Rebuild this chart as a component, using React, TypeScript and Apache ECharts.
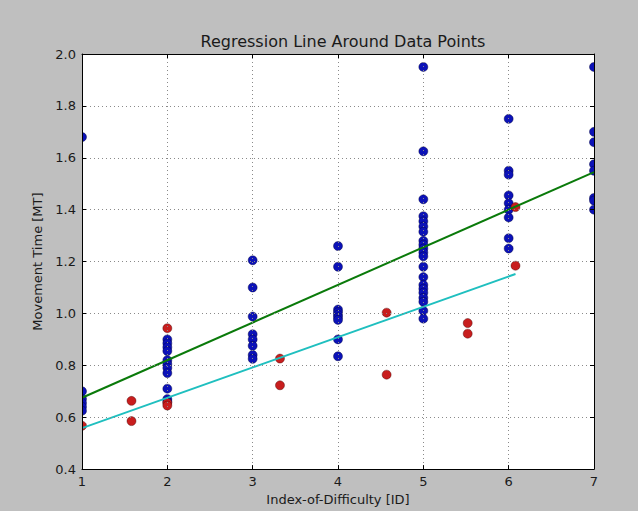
import React, { useEffect, useRef } from "react";
import * as echarts from "echarts";

const titleText = "Regression Line Around Data Points";
const xName = "Index-of-Difficulty [ID]";
const yName = "Movement Time [MT]";

const blueX1 = [1.68, 0.70, 0.67, 0.655, 0.64, 0.625];
const blueX2 = [0.90, 0.885, 0.87, 0.855, 0.82, 0.805, 0.79, 0.77, 0.71, 0.67, 0.66];
const blueX3 = [1.205, 1.10, 0.988, 0.92, 0.90, 0.875, 0.84, 0.825];
const blueX4 = [1.26, 1.18, 1.015, 1.005, 0.995, 0.985, 0.975, 0.90, 0.835];
const blueX5 = [1.95, 1.625, 1.44, 1.375, 1.355, 1.335, 1.315, 1.28, 1.265, 1.25, 1.235, 1.22, 1.18, 1.14, 1.11, 1.095, 1.08, 1.06, 1.045, 1.01, 0.98];
const blueX6 = [1.75, 1.55, 1.535, 1.455, 1.425, 1.40, 1.37, 1.29, 1.25];
const blueX7 = [1.95, 1.70, 1.66, 1.575, 1.55, 1.445, 1.435, 1.40];
const blueColumns: [number, number[]][] = [
  [1, blueX1], [2, blueX2], [3, blueX3], [4, blueX4], [5, blueX5], [6, blueX6], [7, blueX7],
];

const redPoints: [number, number][] = [
  [1, 0.567], [1.58, 0.663], [1.58, 0.585], [2, 0.943], [2, 0.655], [2, 0.645],
  [3.32, 0.826], [3.32, 0.723], [4.57, 1.003], [4.57, 0.764], [5.52, 0.963],
  [5.52, 0.922], [6.08, 1.41], [6.08, 1.184],
];

const greenLine: [number, number][] = [[1, 0.675], [7, 1.545]];
const cyanLine: [number, number][] = [[1, 0.558], [6.08, 1.152]];

const xTicks = { min: 1, max: 7, interval: 1 };
const yTicks = { min: 0.4, max: 2.0, interval: 0.2 };

const W = 638;
const H = 511;
const G = { left: 82, top: 54, right: 594, bottom: 476 };
const BG = "#bfbfbf";
const FONT = "DejaVu Sans";

export default function App() {
  const ref = useRef<HTMLDivElement>(null);
  useEffect(() => {
    if (!ref.current) return;
    const chart = echarts.init(ref.current, undefined, { renderer: "svg" });
    const blueData: [number, number][] = [];
    blueColumns.forEach(([x, ys]) => ys.forEach((y) => blueData.push([x, y])));

    const axisCommon = {
      type: "value" as const,
      z: 20,
      axisLine: { show: true, onZero: false, lineStyle: { color: "#000", width: 1 } },
      axisTick: { show: true, inside: true, length: 4, lineStyle: { color: "#000" } },
    };

    chart.setOption({
      animation: false,
      backgroundColor: BG,
      title: {
        text: titleText,
        left: (G.left + G.right) / 2,
        textAlign: "center",
        top: 28,
        z: 20,
        textStyle: { fontFamily: FONT, fontSize: 16, fontWeight: "normal", color: "#1a1a1a" },
      },
      grid: {
        left: G.left,
        top: G.top,
        right: W - G.right,
        bottom: H - G.bottom,
        show: true,
        backgroundColor: "#fff",
        borderWidth: 0,
      },
      xAxis: [
        {
          ...axisCommon,
          ...xTicks,
          position: "bottom",
          name: xName,
          nameLocation: "middle",
          nameGap: 20,
          nameTextStyle: { fontFamily: FONT, fontSize: 13, color: "#1a1a1a" },
          axisLabel: { fontFamily: FONT, fontSize: 13, color: "#1a1a1a", margin: 6 },
          splitLine: { show: true, lineStyle: { color: "#8a8a8a", width: 1, type: [1, 3] } },
        },
        {
          ...axisCommon,
          ...xTicks,
          position: "top",
          axisLabel: { show: false },
          splitLine: { show: false },
        },
      ],
      yAxis: [
        {
          ...axisCommon,
          ...yTicks,
          position: "left",
          name: yName,
          nameLocation: "middle",
          nameGap: 38,
          nameTextStyle: { fontFamily: FONT, fontSize: 13, color: "#1a1a1a" },
          axisLabel: {
            fontFamily: FONT,
            fontSize: 13,
            color: "#1a1a1a",
            margin: 6,
            formatter: (v: number) => v.toFixed(1),
          },
          splitLine: { show: true, lineStyle: { color: "#8a8a8a", width: 1, type: [1, 3] } },
        },
        {
          ...axisCommon,
          ...yTicks,
          position: "right",
          axisLabel: { show: false },
          splitLine: { show: false },
        },
      ],
      graphic: {
        elements: [
          { type: "rect", z: 10, silent: true, shape: { x: 0, y: 0, width: G.left, height: H }, style: { fill: BG } },
          { type: "rect", z: 10, silent: true, shape: { x: G.right, y: 0, width: W - G.right, height: H }, style: { fill: BG } },
          { type: "rect", z: 10, silent: true, shape: { x: 0, y: 0, width: W, height: G.top }, style: { fill: BG } },
          { type: "rect", z: 10, silent: true, shape: { x: 0, y: G.bottom, width: W, height: H - G.bottom }, style: { fill: BG } },
        ],
      },
      series: [
        {
          type: "scatter",
          data: blueData,
          symbolSize: 9,
          clip: false,
          itemStyle: { color: "#0c12b8", borderColor: "#000030", borderWidth: 0.4, opacity: 1 },
          z: 2,
        },
        {
          type: "scatter",
          data: redPoints,
          symbolSize: 9,
          clip: false,
          itemStyle: { color: "#c81e1e", borderColor: "#400000", borderWidth: 0.4, opacity: 1 },
          z: 3,
        },
        {
          type: "line",
          data: greenLine,
          showSymbol: false,
          symbol: "none",
          lineStyle: { color: "#0a7a0a", width: 2 },
          z: 4,
        },
        {
          type: "line",
          data: cyanLine,
          showSymbol: false,
          symbol: "none",
          lineStyle: { color: "#1fbfbf", width: 2 },
          z: 4,
        },
      ],
    });
    return () => chart.dispose();
  }, []);
  return (
    <div
      ref={ref}
      style={{ position: "fixed", left: 0, top: 0, width: W, height: H }}
    />
  );
}
